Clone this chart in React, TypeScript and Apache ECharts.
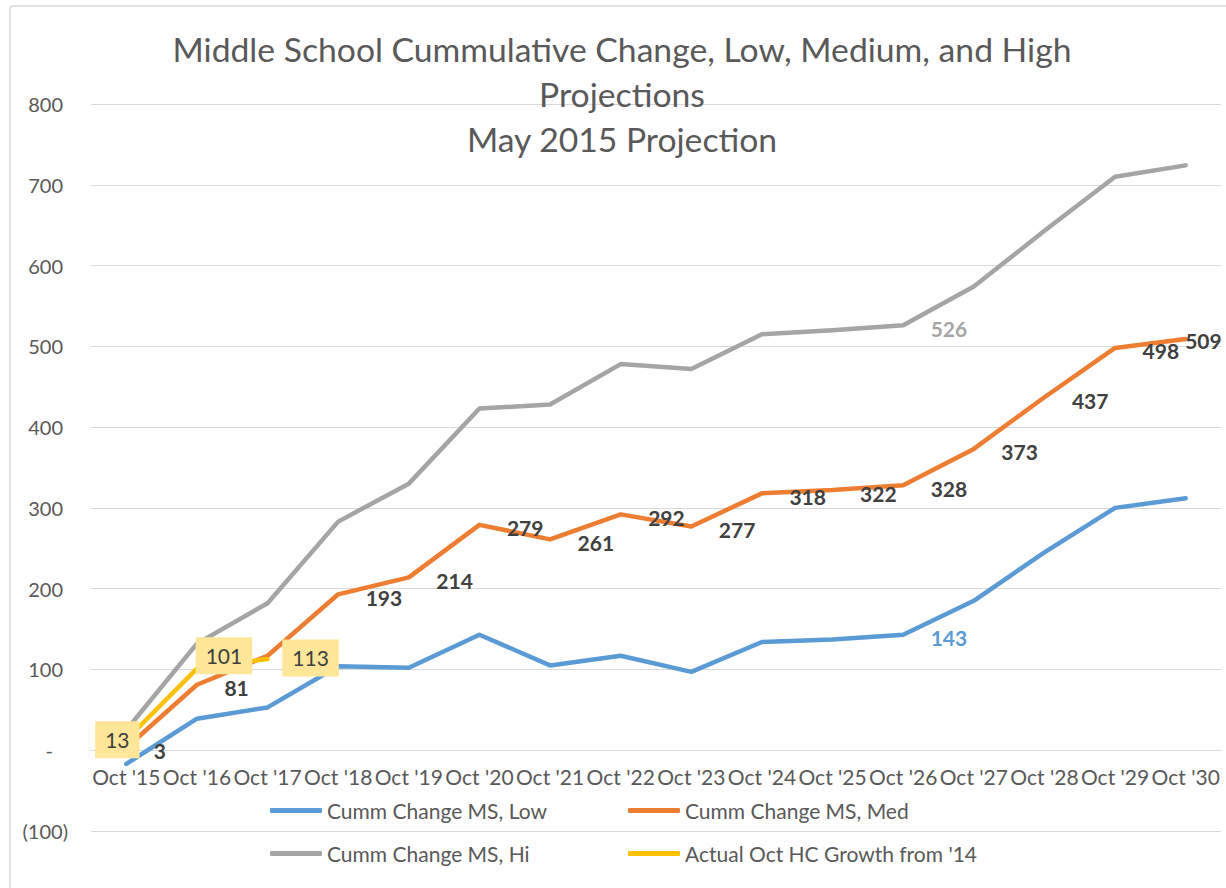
import React, { useEffect, useRef } from "react";
import * as echarts from "echarts";

const categories = ["Oct '15", "Oct '16", "Oct '17", "Oct '18", "Oct '19", "Oct '20", "Oct '21", "Oct '22", "Oct '23", "Oct '24", "Oct '25", "Oct '26", "Oct '27", "Oct '28", "Oct '29", "Oct '30"];
const lowValues = [-17, 39, 53, 104, 102, 143, 105, 117, 97, 134, 137, 143, 185, 245, 300, 312];
const medValues = [3, 81, 117, 193, 214, 279, 261, 292, 277, 318, 322, 328, 373, 437, 498, 509];
const hiValues = [25, 132, 182, 283, 330, 423, 428, 478, 472, 515, 520, 526, 574, 643, 710, 724];
const actualValues = [13, 101, 113];
const seriesNames = ["Cumm Change MS, Low", "Cumm Change MS, Med", "Cumm Change MS, Hi", "Actual Oct HC Growth from '14"];
const titleLines = ["Middle School Cummulative Change, Low, Medium, and High", "Projections", "May 2015 Projection"];

const FONT = "Lato";
const TEXT = "#595959";
const colors = ["#5B9BD5", "#ED7D31", "#A5A5A5", "#FFC000"];

export default function App() {
  const ref = useRef<HTMLDivElement>(null);
  useEffect(() => {
    if (!ref.current) return;
    const chart = echarts.init(ref.current, null, { renderer: "svg" });
    const baseLabel = {
      position: "right",
      distance: 27,
      offset: [0, 3],
      fontFamily: FONT,
      fontSize: 21,
      fontWeight: "bold",
    };
    const actualOffsets = [[-9, 0], [27, -13], [43, -1]];
    const lineStyle = (c: string) => ({ width: 4.5, color: c, cap: "round", join: "round" });
    const common = {
      type: "line",
      symbol: "circle",
      symbolSize: 1,
      showSymbol: true,
      emphasis: { disabled: true },
    };
    chart.setOption({
      animation: false,
      textStyle: { fontFamily: FONT },
      title: {
        text: titleLines.join("\n"),
        left: 622,
        textAlign: "center",
        top: 26,
        padding: 0,
        textStyle: { fontFamily: FONT, fontSize: 33.7, fontWeight: "normal", color: TEXT, lineHeight: 45 },
      },
      graphic: [
        { type: "rect", shape: { x: 10, y: 6, width: 1400, height: 1000, r: 3 }, style: { fill: "none", stroke: "#d9d9d9", lineWidth: 1.5 }, silent: true },
      ],
      legend: [
        {
          data: [seriesNames[0], seriesNames[2]],
          orient: "vertical",
          left: 270,
          top: 800,
          itemWidth: 52,
          itemHeight: 5,
          itemGap: 22,
          icon: "roundRect",
          padding: 0,
          textStyle: { fontFamily: FONT, fontSize: 21, color: TEXT },
        },
        {
          data: [seriesNames[1], seriesNames[3]],
          orient: "vertical",
          left: 628,
          top: 800,
          itemWidth: 52,
          itemHeight: 5,
          itemGap: 22,
          icon: "roundRect",
          padding: 0,
          textStyle: { fontFamily: FONT, fontSize: 21, color: TEXT },
        },
      ],
      grid: { left: 91, right: 5, top: 104, height: 727, containLabel: false },
      xAxis: {
        type: "category",
        data: categories,
        boundaryGap: true,
        offset: -81,
        axisLine: { onZero: false, lineStyle: { color: "#d9d9d9", width: 1 } },
        axisTick: { show: false },
        axisLabel: { interval: 0, color: TEXT, fontFamily: FONT, fontSize: 21, margin: 16 },
      },
      yAxis: {
        type: "value",
        min: -100,
        max: 800,
        interval: 100,
        axisLine: { show: false },
        axisTick: { show: false },
        splitLine: { lineStyle: { color: "#d9d9d9", width: 1 } },
        axisLabel: {
          margin: 23,
          color: TEXT,
          fontFamily: FONT,
          fontSize: 20,
          formatter: (v: number) => (v === 0 ? "{z|-}" : v < 0 ? "(" + -v + ")" : "{p|" + v + "}"),
          rich: {
            z: { padding: [0, 15, 0, 0], color: TEXT, fontFamily: FONT, fontSize: 20 },
            p: { padding: [0, 5, 0, 0], color: TEXT, fontFamily: FONT, fontSize: 20 },
          },
        },
      },
      series: [
        {
          ...common,
          name: seriesNames[0],
          data: lowValues.map((v, i) => ({ value: v, label: { show: i === 11 } })),
          color: colors[0],
          lineStyle: lineStyle(colors[0]),
          label: { ...baseLabel, color: colors[0] },
        },
        {
          ...common,
          name: seriesNames[1],
          data: medValues.map((v, i) => ({
            value: v,
            label: { show: i !== 2, offset: i === medValues.length - 1 ? [-28, 1] : [0, 3] },
          })),
          color: colors[1],
          lineStyle: lineStyle(colors[1]),
          label: { ...baseLabel, color: "#404040" },
        },
        {
          ...common,
          name: seriesNames[2],
          data: hiValues.map((v, i) => ({ value: v, label: { show: i === 11 } })),
          color: colors[2],
          lineStyle: lineStyle(colors[2]),
          label: { ...baseLabel, color: colors[2] },
        },
        {
          ...common,
          name: seriesNames[3],
          data: actualValues.map((v, i) => ({ value: v, label: { show: true, offset: actualOffsets[i] } })),
          color: colors[3],
          lineStyle: lineStyle(colors[3]),
          z: 5,
          label: {
            position: "inside",
            fontFamily: FONT,
            fontSize: 21,
            color: "#404040",
            backgroundColor: "#FFE699",
            padding: [8, 10],
          },
        },
      ],
    });
    return () => chart.dispose();
  }, []);
  return <div ref={ref} style={{ position: "fixed", left: 0, top: 0, width: 1226, height: 888, background: "#fff" }} />;
}
